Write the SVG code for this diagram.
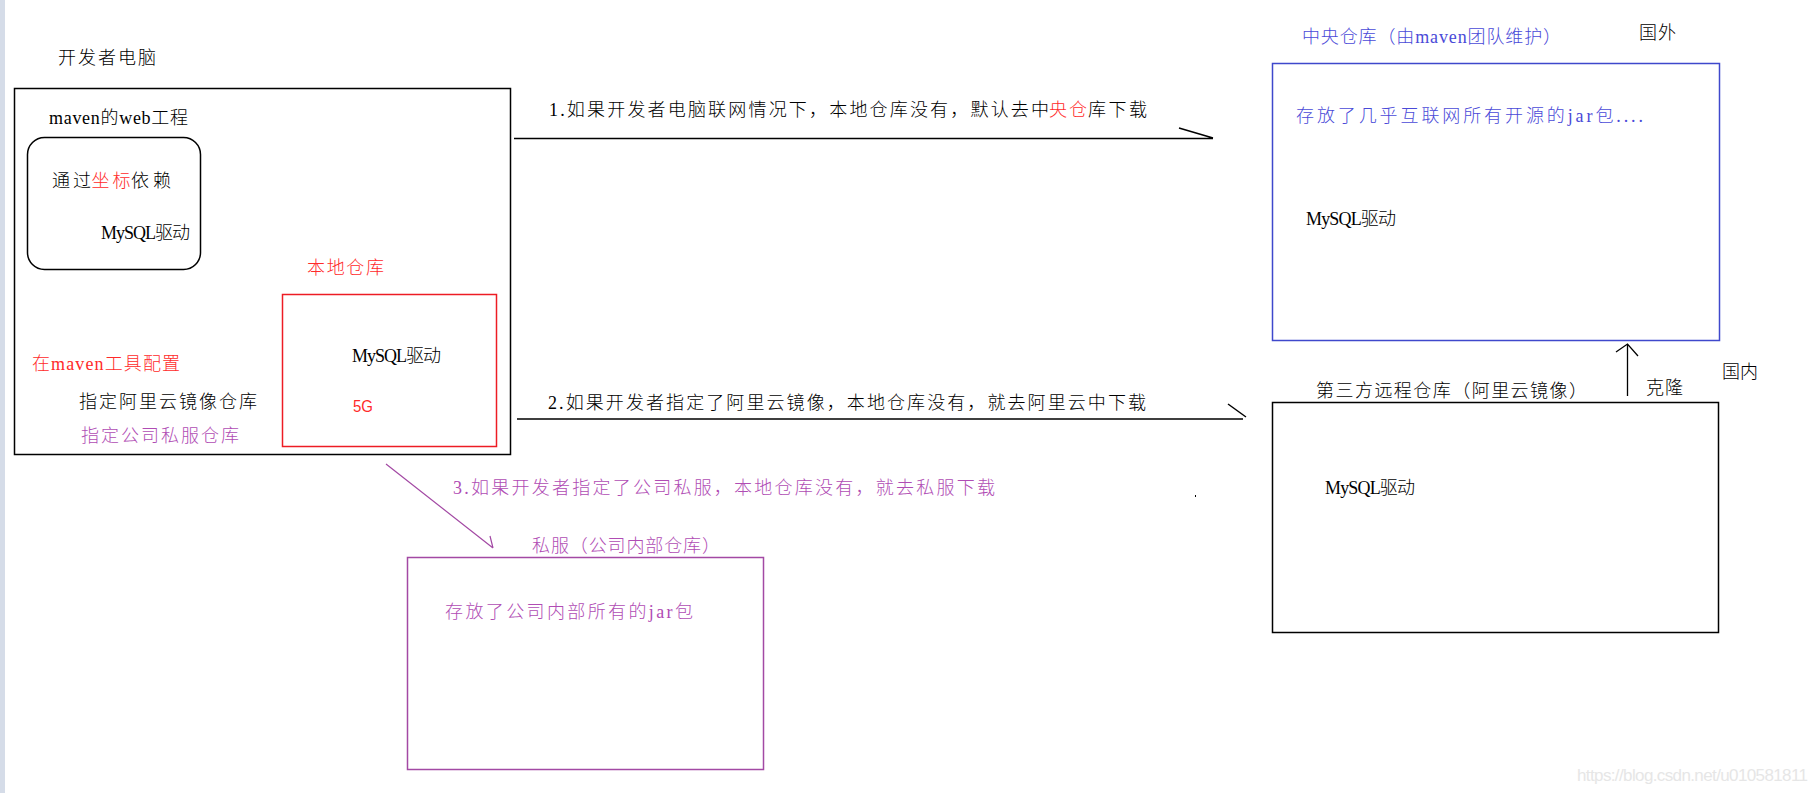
<svg xmlns="http://www.w3.org/2000/svg" width="1818" height="793" viewBox="0 0 1818 793">
<style>
.t{font-family:"Liberation Serif","Noto Sans CJK SC",serif;font-size:18px;font-weight:300}
.s{font-family:"Liberation Sans","Noto Sans CJK SC",sans-serif}
.k{fill:#000}
.r{fill:#ff2a2a}
.b{fill:#4a4ad8}
.p{fill:#b04cb4}
.box{fill:none;stroke:#000;stroke-width:1.5}
.ln{fill:none;stroke:#000;stroke-width:1.5}
</style>
<rect x="0" y="0" width="1818" height="793" fill="#fff"/>
<rect x="0" y="0" width="5" height="793" fill="#d5dce8"/>

<g id="dev-pc">
<text class="t k" x="58" y="64" textLength="98">开发者电脑</text>
<rect class="box" x="14.5" y="88.5" width="496" height="366"/>
</g>

<g id="web-project">
<text class="t k" x="49" y="124" textLength="139">maven的web工程</text>
<rect class="box" x="27.5" y="137.5" width="173" height="132" rx="17" stroke-width="1.3"/>
<text class="t k" x="52" y="187" textLength="39">通过</text>
<text class="t r" x="91.5" y="187" textLength="39">坐标</text>
<text class="t k" x="131" y="187" textLength="40">依赖</text>
<text class="t k" x="101" y="239" textLength="89">MySQL驱动</text>
</g>

<g id="local-repo">
<text class="t r" x="307" y="274" textLength="77">本地仓库</text>
<rect x="282.5" y="294.5" width="214" height="152" fill="none" stroke="#ed1c24" stroke-width="1.5"/>
<text class="t k" x="352" y="362" textLength="89">MySQL驱动</text>
<text class="s r" x="353" y="412" font-size="17" textLength="20" lengthAdjust="spacingAndGlyphs">5G</text>
</g>

<g id="maven-config">
<text class="t r" x="32" y="370" textLength="148">在maven工具配置</text>
<text class="t k" x="79" y="408" textLength="178">指定阿里云镜像仓库</text>
<text class="t p" x="81" y="442" textLength="158">指定公司私服仓库</text>
</g>

<g id="central-repo">
<text class="t b" x="1302" y="43" textLength="259">中央仓库（由maven团队维护）</text>
<rect x="1272.5" y="63.5" width="447" height="277" fill="none" stroke="#3f48cc" stroke-width="1.5"/>
<text class="t b" x="1296" y="122" textLength="347">存放了几乎互联网所有开源的jar包....</text>
<text class="t k" x="1306" y="225" textLength="90">MySQL驱动</text>
</g>

<g id="region-labels">
<text class="t k" x="1639" y="39" textLength="37">国外</text>
<text class="t k" x="1722" y="378" textLength="36">国内</text>
</g>

<g id="aliyun-mirror">
<text class="t k" x="1316" y="397" textLength="271">第三方远程仓库（阿里云镜像）</text>
<rect class="box" x="1272.5" y="402.5" width="446" height="230"/>
<text class="t k" x="1325" y="494" textLength="90">MySQL驱动</text>
</g>

<g id="private-repo">
<text class="t p" x="532" y="552" textLength="188">私服（公司内部仓库）</text>
<rect x="407.5" y="557.5" width="356" height="212" fill="none" stroke="#a349a4" stroke-width="1.5"/>
<text class="t p" x="445" y="618" textLength="248">存放了公司内部所有的jar包</text>
</g>

<g id="connectors">
<path class="ln" d="M514,138.5 H1213 M1179,128 L1213,138"/>
<text class="t k" x="549" y="116" textLength="500">1.如果开发者电脑联网情况下，本地仓库没有，默认去中</text>
<text class="t r" x="1049" y="116" textLength="38">央仓</text>
<text class="t k" x="1088" y="116" textLength="59">库下载</text>

<path class="ln" d="M517,419 H1243 M1228,404 L1246,417"/>
<text class="t k" x="548" y="409" textLength="598">2.如果开发者指定了阿里云镜像，本地仓库没有，就去阿里云中下载</text>

<path d="M386,464 L493,548 M490,536 L493,548" fill="none" stroke="#a349a4" stroke-width="1.2"/>
<text class="t p" x="453" y="494" textLength="542">3.如果开发者指定了公司私服，本地仓库没有，就去私服下载</text>

<path d="M1627.5,396 V344 M1616,352 L1627.5,344 L1638,356" fill="none" stroke="#000" stroke-width="1.3"/>
<text class="t k" x="1646" y="394" textLength="37">克隆</text>
</g>

<rect x="1195" y="495" width="1" height="2" fill="#000"/>
<text class="s" x="1577" y="781" font-size="17" fill="#e6e6e6" textLength="231">https://blog.csdn.net/u010581811</text>
</svg>
